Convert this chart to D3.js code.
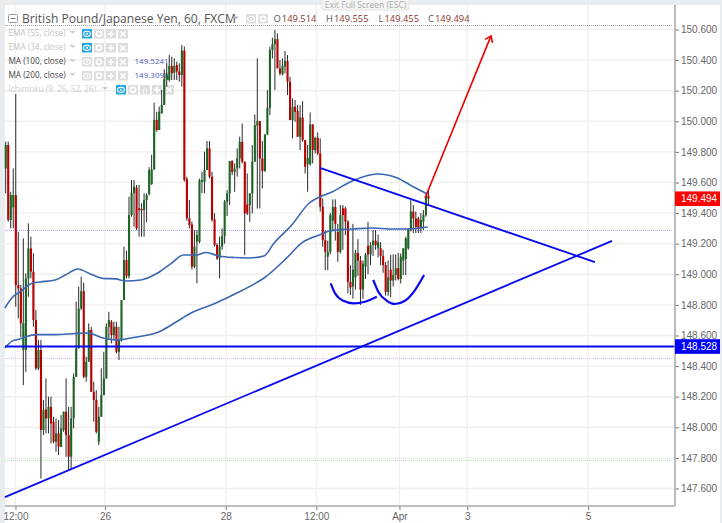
<!DOCTYPE html>
<html><head><meta charset="utf-8">
<style>html,body{margin:0;padding:0;background:#e9edf0;overflow:hidden}svg{display:block}text{font-family:"Liberation Sans",Arial,sans-serif}.t{font-family:"Open Sans",sans-serif}</style>
<script src="https://cdn.jsdelivr.net/npm/d3@7"></script></head><body><div id="c"></div>
<script>
const opens=[149.692,149.845,149.355,149.437,149.518,148.930,148.908,148.505,148.505,148.973,
149.169,149.017,148.701,148.385,148.505,147.982,148.117,148.058,148.134,148.036,
147.906,147.960,147.873,147.982,148.102,147.949,147.808,148.058,148.330,148.516,
148.777,148.890,148.330,148.429,148.636,148.232,148.178,147.906,148.069,148.210,
148.319,148.657,148.690,148.603,148.657,148.494,148.570,148.832,149.093,148.988,
149.388,149.530,149.566,149.431,149.427,149.420,149.486,149.525,149.590,149.686,
150.009,149.943,150.052,150.107,150.270,150.270,150.362,150.318,150.368,150.325,
150.303,150.462,149.623,149.366,149.326,149.050,149.213,149.213,149.605,149.605,
149.682,149.823,149.638,149.359,149.192,149.104,149.181,149.250,149.474,149.529,
149.740,149.670,149.692,149.757,149.866,149.736,149.457,149.452,149.529,149.736,
149.971,150.001,149.757,149.675,149.914,150.088,150.466,150.503,150.537,150.346,
150.307,150.357,150.394,150.259,150.008,150.095,150.067,149.899,150.025,149.877,
149.720,149.719,149.980,149.812,149.892,149.790,149.441,149.223,149.115,149.147,
149.350,149.440,149.278,149.147,149.431,149.431,149.344,148.951,148.920,148.980,
149.140,149.090,148.900,149.050,149.186,149.130,149.190,149.220,149.170,149.170,
149.120,149.060,148.885,149.030,148.960,148.995,149.040,148.970,149.090,149.100,
149.170,149.290,149.410,149.365,149.365,149.300,149.344,149.387,149.514];
const highs=[149.867,149.867,149.540,149.692,150.178,149.278,148.930,149.235,149.006,149.333,
149.246,149.137,148.766,148.570,148.570,148.178,148.320,148.200,148.200,148.069,
148.058,148.047,148.080,148.102,148.320,148.134,148.134,148.352,148.821,148.919,
148.984,148.945,148.461,148.679,148.657,148.298,148.243,148.134,148.385,148.494,
148.679,148.755,148.701,148.690,148.690,148.657,148.832,149.180,149.154,149.507,
149.616,149.616,149.584,149.584,149.464,149.529,149.529,149.700,149.780,150.122,
150.063,150.096,150.205,150.340,150.379,150.434,150.423,150.412,150.390,150.379,
150.499,150.488,149.638,149.486,149.344,149.289,149.289,149.625,149.671,149.802,
149.871,149.871,149.671,149.399,149.203,149.246,149.300,149.486,149.550,149.740,
149.746,149.725,149.823,149.899,149.986,149.736,149.659,149.529,149.845,150.045,
150.411,150.001,149.871,149.914,150.204,150.487,150.546,150.596,150.574,150.400,
150.411,150.459,150.433,150.291,150.150,150.139,150.106,150.106,150.132,149.877,
149.845,150.058,149.980,149.900,149.927,149.888,149.496,149.289,149.220,149.400,
149.490,149.490,149.330,149.453,149.453,149.442,149.354,149.060,149.330,149.160,
149.230,149.120,149.090,149.140,149.343,149.210,149.290,149.290,149.260,149.210,
149.160,149.080,149.090,149.126,149.130,149.130,149.140,149.136,149.170,149.245,
149.300,149.485,149.453,149.410,149.376,149.400,149.420,149.520,149.555];
const lows=[149.529,149.344,149.300,149.300,148.788,148.712,148.590,148.276,148.363,148.853,
148.973,148.657,148.374,148.374,147.666,147.949,147.960,147.960,147.895,147.895,
147.840,147.818,147.873,147.971,147.808,147.720,147.731,147.993,148.330,148.516,
148.766,148.320,148.298,148.429,148.232,148.036,147.960,147.884,148.069,148.210,
148.319,148.570,148.548,148.570,148.483,148.440,148.559,148.832,148.973,148.973,
149.377,149.311,149.289,149.246,149.246,149.246,149.340,149.515,149.584,149.682,
149.932,149.943,150.052,150.107,150.226,150.259,150.270,150.270,150.270,150.259,
150.227,149.606,149.350,149.300,149.032,149.039,148.941,149.202,149.530,149.529,
149.682,149.627,149.344,149.181,149.093,148.974,149.160,149.200,149.380,149.452,
149.648,149.539,149.638,149.692,149.725,149.125,149.387,149.343,149.398,149.736,
149.430,149.430,149.561,149.670,149.910,150.041,150.410,150.204,150.346,150.300,
150.300,150.313,150.171,150.008,149.888,149.997,149.899,149.812,149.866,149.659,
149.540,149.710,149.725,149.790,149.780,149.410,149.180,149.027,149.027,149.130,
149.290,149.220,149.082,149.136,149.160,149.256,148.875,148.864,148.840,148.900,
148.990,148.800,148.840,148.970,149.000,149.060,149.120,149.160,149.110,149.060,
149.010,148.860,148.860,148.850,148.920,148.960,148.960,148.940,148.995,148.995,
149.160,149.280,149.270,149.270,149.270,149.270,149.290,149.376,149.455];
const closes=[149.845,149.355,149.518,149.518,148.930,148.908,148.680,148.680,148.973,149.169,
149.017,148.701,148.385,148.505,147.982,148.113,148.058,148.134,148.025,147.906,
147.960,147.873,147.993,148.102,147.949,147.808,148.058,148.330,148.516,148.777,
148.890,148.330,148.429,148.636,148.232,148.178,147.971,148.069,148.210,148.319,
148.657,148.701,148.603,148.657,148.494,148.570,148.832,149.093,148.988,149.387,
149.534,149.573,149.300,149.420,149.418,149.486,149.518,149.682,149.686,150.009,
149.943,150.063,150.107,150.275,150.303,150.362,150.314,150.362,150.325,150.303,
150.462,149.616,149.366,149.322,149.050,149.181,149.257,149.616,149.616,149.682,
149.823,149.638,149.355,149.192,149.104,149.181,149.250,149.475,149.529,149.740,
149.670,149.690,149.757,149.866,149.736,149.398,149.398,149.529,149.736,149.975,
150.001,149.757,149.675,149.914,150.088,150.466,150.503,150.537,150.346,150.313,
150.363,150.394,150.259,150.008,150.095,150.062,149.899,150.025,149.877,149.703,
149.760,149.980,149.812,149.892,149.790,149.441,149.223,149.147,149.147,149.387,
149.440,149.330,149.147,149.387,149.387,149.344,148.951,148.914,149.030,149.140,
149.090,148.900,149.070,149.130,149.130,149.190,149.220,149.190,149.210,149.120,
149.060,148.885,148.980,148.960,148.995,149.040,148.970,149.115,149.170,149.235,
149.290,149.410,149.365,149.310,149.300,149.355,149.387,149.518,149.494];
const ma100Bars=[0,3,6,11,14,20,24,29,34,39,44,48,54,60,66,71,76,80,85,91,97,103,107,114,121,125,130,138,148,156,161,168];
const ma100Vals=[148.78,148.85,148.885,148.943,148.95,148.963,148.995,149.035,149.002,148.973,148.97,148.956,148.963,149.002,149.07,149.126,149.126,149.142,149.12,149.11,149.107,149.12,149.205,149.322,149.466,149.505,149.538,149.61,149.656,149.63,149.584,149.524];
const ma200Bars=[0,3,6,8,13,20,28,33,39,45,50,62,68,74,83,93,99,103,112,118,125,129,132,138,146,154,160,168];
const ma200Vals=[148.52,148.565,148.577,148.59,148.606,148.606,148.613,148.616,148.584,148.57,148.584,148.63,148.688,148.747,148.806,148.884,148.936,148.976,149.107,149.205,149.257,149.283,149.29,149.296,149.303,149.296,149.296,149.309];
const priceTicks=[150.6,150.4,150.2,150,149.8,149.6,149.4,149.2,149,148.8,148.6,148.4,148.2,148,147.8,147.6];
const timeTicks=[4.2,39.8,87.8,123.8,156.8,183.8,231.8];
const timeLabels=["12:00","26","28","12:00","Apr","3","5"];
const supportBars=[0,241.3], supportVals=[147.544,149.218];
const resistBars=[125.2,234.5], resistVals=[149.695,149.08];
const arrowBars=[167,193.2], arrowVals=[149.499,150.558];
const cupLeftBars=[129.5,131.2,134.5,138.5,143.1,147.8], cupLeftVals=[148.941,148.876,148.827,148.81,148.821,148.854];
const cupRightBars=[146.4,148.4,151.8,155,159,163,166.6], cupRightVals=[148.963,148.886,148.827,148.806,148.827,148.897,148.995];
const hLevel=148.528, lastPrice=149.494;
const dotted=[[150.626,"#a0a0a0"],[149.286,"#a6a6ff"],[148.45,"#eeb0ff"],[147.783,"#b8e0ae"]];
const legendRows=[["EMA (55, close)","#c4c4c4",true,""],["EMA (34, close)","#c4c4c4",true,""],["MA (100, close)","#444",false,"149.5241"],["MA (200, close)","#444",false,"149.3098"]];

const W=722,H=523,L=5,R=675,B=506;
const x=d3.scaleLinear().domain([0,168]).range([4.9,427.6]);
const y=d3.scaleLinear().domain([150.6,147.6]).range([29.5,488.5]);
const svg=d3.select("#c").append("svg").attr("width",W).attr("height",H);
svg.append("rect").attr("x",L).attr("y",5).attr("width",715).attr("height",518).attr("fill","#fff");

// grid
svg.append("g").selectAll("line").data(priceTicks).join("line").attr("x1",L).attr("x2",R).attr("y1",d=>y(d)).attr("y2",d=>y(d)).attr("stroke","#efefef").attr("stroke-width",1.4);
svg.append("g").selectAll("line").data(timeTicks).join("line").attr("x1",d=>x(d)).attr("x2",d=>x(d)).attr("y1",5).attr("y2",B).attr("stroke","#f0f0f0").attr("stroke-width",1.4);

// dotted levels
svg.append("g").selectAll("line").data(dotted).join("line").attr("x1",L).attr("x2",673).attr("y1",d=>y(d[0])).attr("y2",d=>y(d[0])).attr("stroke",d=>d[1]).attr("stroke-width",1).attr("stroke-dasharray","1 1").attr("shape-rendering","crispEdges");

// legend
function btn(g,bx,by,kind,on){
  g.append("rect").attr("x",bx).attr("y",by).attr("width",10).attr("height",9.5).attr("fill",on?"#2aa7e2":"#dedede");
  const c="#fff";
  if(kind=="eye"){g.append("ellipse").attr("cx",bx+5).attr("cy",by+4.8).attr("rx",3.4).attr("ry",2.6).attr("fill","none").attr("stroke",c).attr("stroke-width",1.1);g.append("circle").attr("cx",bx+5).attr("cy",by+4.8).attr("r",1).attr("fill",c);}
  if(kind=="gear"){g.append("circle").attr("cx",bx+5).attr("cy",by+4.8).attr("r",2.6).attr("fill","none").attr("stroke",c).attr("stroke-width",1.6);}
  if(kind=="brace"){g.append("text").attr("x",bx+5).attr("y",by+8).attr("text-anchor","middle").attr("font-size",8).attr("fill",c).text("()");}
  if(kind=="plus"){g.append("path").attr("d",`M${bx+5} ${by+2}V${by+8}M${bx+2} ${by+5}H${bx+8}`).attr("stroke",c).attr("stroke-width",1.5);}
  if(kind=="x"){g.append("path").attr("d",`M${bx+2.5} ${by+2.5}L${bx+7.5} ${by+7.5}M${bx+7.5} ${by+2.5}L${bx+2.5} ${by+7.5}`).attr("stroke",c).attr("stroke-width",1.5);}
}
function caret(g,cx,cy,col){g.append("path").attr("d",`M${cx-3} ${cy-1.5}H${cx+3}L${cx} ${cy+1.5}Z`).attr("fill",col);}
const lg=svg.append("g");
lg.append("rect").attr("x",8.5).attr("y",14.5).attr("width",9).attr("height",8).attr("rx",1).attr("fill","#fff").attr("stroke","#999");
lg.append("path").attr("d","M10.5 18.5H15.5").attr("stroke","#777");
lg.append("text").attr("class","t").attr("x",22).attr("y",22.5).attr("font-size",12.1).attr("fill","#555").text("British Pound/Japanese Yen, 60, FXCM");
caret(lg,236,18,"#bbb");
btn(lg,246,14,"eye",false);btn(lg,258,14,"gear",false);
[["O","149.514",273.5],["H","149.555",326],["L","149.455",378.5],["C","149.494",428]].forEach(d=>{
  const t=lg.append("text").attr("class","t").attr("x",d[2]).attr("y",22).attr("font-size",9.4).attr("fill","#555");
  t.append("tspan").text(d[0]);t.append("tspan").attr("fill","#8a3a2e").attr("dx",1).text(d[1]);
});
legendRows.forEach((r,i)=>{
  const ty=36+i*14;
  lg.append("text").attr("class","t").attr("x",8.5).attr("y",ty).attr("font-size",8.2).attr("fill",r[1]).text(r[0]);
  caret(lg,72.5,ty-3.5,"#ccc");
  const by=ty-7;
  btn(lg,82,by,"eye",r[2]);btn(lg,94,by,"gear",false);btn(lg,106,by,"plus",false);btn(lg,118,by,"x",false);
  if(r[3])lg.append("text").attr("class","t").attr("x",134.5).attr("y",ty).attr("font-size",8).attr("fill","#4a5cb8").text(r[3]);
});
lg.append("text").attr("class","t").attr("x",8.5).attr("y",92).attr("font-size",8.2).attr("fill","#d0d0d0").text("Ichimoku (9, 26, 52, 26)");
caret(lg,105,88.5,"#ccc");
btn(lg,116,85,"eye",true);btn(lg,128,85,"gear",false);btn(lg,140,85,"brace",false);btn(lg,152,85,"plus",false);btn(lg,164,85,"x",false);

// candles
const bars=d3.range(opens.length);
svg.append("g").selectAll("line").data(bars).join("line").attr("x1",i=>x(i)+0.8).attr("x2",i=>x(i)+0.8).attr("y1",i=>y(highs[i])).attr("y2",i=>y(lows[i])).attr("stroke","#2a2a2a").attr("stroke-width",1);
svg.append("g").selectAll("rect").data(bars).join("rect").attr("x",i=>x(i)-0.2).attr("width",2.1).attr("y",i=>y(Math.max(opens[i],closes[i]))).attr("height",i=>Math.max(1,Math.abs(y(opens[i])-y(closes[i])))).attr("fill",i=>closes[i]>=opens[i]?"#1c6523":"#b80000");

// moving averages
const ln=d3.line().x(d=>x(d[0])).y(d=>y(d[1])).curve(d3.curveMonotoneX);
const zip=(a,b)=>a.map((v,i)=>[v,b[i]]);
const lines=svg.append("g").attr("fill","none");
lines.append("path").attr("d",ln(zip(ma100Bars,ma100Vals))).attr("stroke","#3a66b2").attr("stroke-width",1.6);
lines.append("path").attr("d",ln(zip(ma200Bars,ma200Vals))).attr("stroke","#3a66b2").attr("stroke-width",1.6);

// drawings
const straight=d3.line().x(d=>x(d[0])).y(d=>y(d[1]));
const blue="#0808f0";
lines.append("path").attr("d",straight(zip(supportBars,supportVals))).attr("stroke",blue).attr("stroke-width",1.8);
lines.append("path").attr("d",straight(zip(resistBars,resistVals))).attr("stroke",blue).attr("stroke-width",1.8);
lines.append("path").attr("d",ln(zip(cupLeftBars,cupLeftVals))).attr("stroke",blue).attr("stroke-width",2.2);
lines.append("path").attr("d",ln(zip(cupRightBars,cupRightVals))).attr("stroke",blue).attr("stroke-width",2.2);
svg.append("line").attr("x1",L).attr("x2",R).attr("y1",y(hLevel)).attr("y2",y(hLevel)).attr("stroke",blue).attr("stroke-width",1.8);
lines.append("path").attr("d",straight(zip(arrowBars,arrowVals))).attr("stroke","#f00000").attr("stroke-width",1.6);
const tx=x(arrowBars[1]),ty=y(arrowVals[1]);
lines.append("path").attr("d",`M${tx-6} ${ty+3.5}L${tx} ${ty}L${tx+1.5} ${ty+7}`).attr("stroke","#f00000").attr("stroke-width",1.6);

// axes
const ya=d3.axisRight(y).tickValues(priceTicks).tickSize(4).tickPadding(2).tickFormat(d3.format(".3f"));
const yg=svg.append("g").attr("transform",`translate(${R},0)`).call(ya);
const xa=d3.axisBottom(x).tickValues(timeTicks).tickSize(4).tickPadding(3).tickFormat((d,i)=>timeLabels[i]);
const xg=svg.append("g").attr("transform",`translate(0,${B})`).call(xa);
[yg,xg].forEach(g=>{g.select(".domain").remove();g.selectAll("text").attr("font-size",10).attr("fill","#666").style("font-family","'Liberation Sans',Arial,sans-serif");g.selectAll("line").attr("stroke","#777");});
svg.append("line").attr("x1",R).attr("x2",R).attr("y1",5).attr("y2",B).attr("stroke","#aaa").attr("stroke-width",1.6);
svg.append("line").attr("x1",L).attr("x2",R).attr("y1",B).attr("y2",B).attr("stroke","#aaa").attr("stroke-width",1.6);

// price tags
function tag(p,col){
  const g=svg.append("g");
  g.append("rect").attr("x",R).attr("y",y(p)-7.3).attr("width",45).attr("height",14.6).attr("fill",col);
  g.append("text").attr("x",681).attr("y",y(p)+3.6).attr("font-size",10).attr("fill","#fff").text(d3.format(".3f")(p));
}
tag(lastPrice,"#ff0000");tag(hLevel,"#0000ff");

// exit full screen hint
svg.append("rect").attr("x",322).attr("y",-2).attr("width",87).attr("height",12).attr("rx",2).attr("fill","#f5f5f5").attr("stroke","#e2e2e2");
svg.append("text").attr("class","t").attr("x",365.5).attr("y",7.5).attr("text-anchor","middle").attr("font-size",8.5).attr("fill","#aaa").text("Exit Full Screen (ESC)");
</script></body></html>
